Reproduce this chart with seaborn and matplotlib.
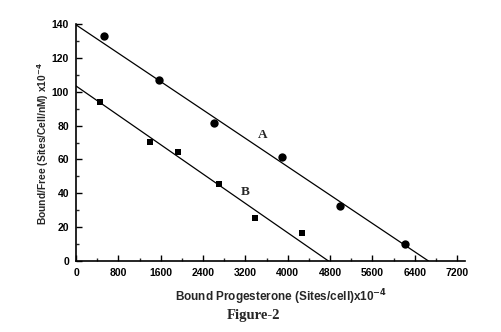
import matplotlib
matplotlib.use("Agg")
import matplotlib.pyplot as plt
from matplotlib.ticker import MultipleLocator
import seaborn as sns
import pandas as pd

# Scatchard data: bound progesterone vs bound/free ratio
bound_a = [530, 1570, 2610, 3890, 4990, 6225]
ratio_a = [133, 107, 81.5, 61.4, 32.7, 10]
bound_b = [450, 1405, 1935, 2705, 3385, 4270]
ratio_b = [93.9, 70.3, 64.6, 45.3, 25.6, 16.4]

# Fitted lines (axis intercepts)
fit_a_x = [0, 6660]
fit_a_y = [139.5, 0]
fit_b_x = [0, 4770]
fit_b_y = [103.4, 0]

sns.set_style("ticks")
plt.rcParams["font.family"] = ["Liberation Sans", "DejaVu Sans"]

fig = plt.figure(figsize=(5.01, 3.32), dpi=100)
ax = fig.add_axes([76 / 501, 1 - 261 / 332, 389 / 501, 237 / 332])

df_a = pd.DataFrame({"x": bound_a, "y": ratio_a})
df_b = pd.DataFrame({"x": bound_b, "y": ratio_b})

sns.lineplot(x=fit_a_x, y=fit_a_y, ax=ax, color="black", lw=0.9)
sns.lineplot(x=fit_b_x, y=fit_b_y, ax=ax, color="black", lw=0.9)
sns.scatterplot(data=df_a, x="x", y="y", ax=ax, marker="o", s=36,
                color="black", edgecolor="black", linewidth=0, zorder=3)
sns.scatterplot(data=df_b, x="x", y="y", ax=ax, marker="s", s=22,
                color="black", edgecolor="black", linewidth=0, zorder=3)

ax.set_xlim(0, 7350)
ax.set_ylim(0, 140)
ax.xaxis.set_major_locator(MultipleLocator(800))
ax.xaxis.set_minor_locator(MultipleLocator(400))
ax.yaxis.set_major_locator(MultipleLocator(20))
ax.yaxis.set_minor_locator(MultipleLocator(10))
ax.set_xticks(range(0, 7201, 800))

sns.despine(ax=ax)
for s in ("left", "bottom"):
    ax.spines[s].set_linewidth(1.2)
    ax.spines[s].set_color("black")

ax.tick_params(which="major", direction="in", length=4, width=1.0,
               labelsize=7.5, pad=5, colors="black")
ax.tick_params(which="minor", direction="in", length=2.5, width=1.0)
for lab in ax.get_xticklabels() + ax.get_yticklabels():
    lab.set_fontweight("bold")

ax.set_xlabel("Bound Progesterone (Sites/cell)x10$^{\\mathbf{-4}}$",
              fontsize=8.5, fontweight="bold")
ax.set_ylabel("Bound/Free (Sites/Cell/nM) x10$^{\\mathbf{-4}}$",
              fontsize=7.4, fontweight="bold")
ax.xaxis.set_label_coords((281 - 76) / 389, -(287 - 261) / 237)
ax.yaxis.set_label_coords(-(76 - 51) / 389, (261 - 143) / 237)

ax.text(3530, 74.5, "A", fontsize=9.5, fontweight="bold",
        family="Liberation Serif", ha="center", va="center")
ax.text(3195, 40.5, "B", fontsize=9.5, fontweight="bold",
        family="Liberation Serif", ha="center", va="center")

fig.text(253 / 501, 1 - 315 / 332, "Figure-2", fontsize=10.5, fontweight="bold",
         family="Liberation Serif", ha="center", va="center")

fig.savefig("out.png", dpi=100, facecolor="white")
